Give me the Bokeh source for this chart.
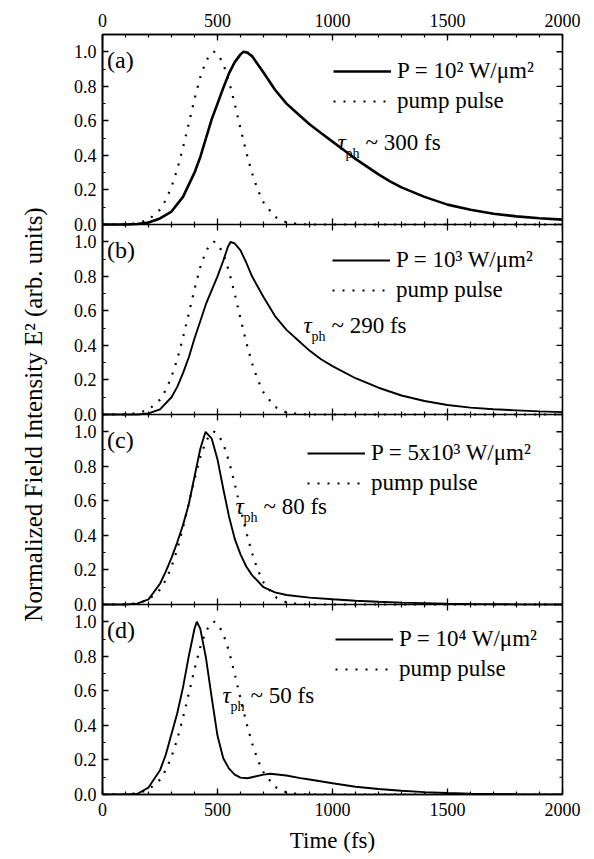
from bokeh.plotting import figure
from bokeh.models import (Range1d, LinearAxis, SingleIntervalTicker, FixedTicker,
                          CustomJSTickFormatter, Legend, LegendItem, Label, Span)
from bokeh.core.properties import value
from bokeh.embed import file_html
from bokeh.resources import INLINE

FONT = "Liberation Serif"

# ---------------- data ----------------
time_major_ticks = [0, 500, 1000, 1500, 2000]
time_minor_ticks = [100, 200, 300, 400, 600, 700, 800, 900, 1100, 1200, 1300, 1400,
                    1600, 1700, 1800, 1900]
field_ticks = [0.0, 0.2, 0.4, 0.6, 0.8, 1.0]
field_minor_ticks = [0.1, 0.3, 0.5, 0.7, 0.9]
panel_span = 1.1  # each panel shows 0 .. 1.1

pump_time = [0, 100, 150, 200, 250, 275, 300, 325, 350, 375, 400, 425, 450, 475, 485,
             500, 525, 550, 575, 600, 625, 650, 675, 700, 750, 800, 850, 900, 2000]
pump_field = [0.0, 0.001, 0.007, 0.027, 0.086, 0.141, 0.218, 0.32, 0.445, 0.584, 0.725,
              0.852, 0.947, 0.996, 1.0, 0.99, 0.931, 0.829, 0.698, 0.556, 0.419, 0.298,
              0.201, 0.128, 0.044, 0.012, 0.003, 0.0, 0.0]

time_a = [0, 100, 150, 200, 250, 300, 350, 400, 425, 450, 475, 500, 525, 550, 575, 600,
          613, 630, 650, 700, 750, 800, 850, 900, 950, 1000, 1050, 1100, 1150, 1200, 1250,
          1300, 1400, 1500, 1600, 1700, 1800, 1900, 2000]
field_a = [0.0, 0.0, 0.003, 0.012, 0.035, 0.075, 0.16, 0.30, 0.39, 0.50, 0.61, 0.70,
           0.79, 0.875, 0.94, 0.985, 1.0, 0.995, 0.975, 0.88, 0.78, 0.70, 0.64, 0.58, 0.53,
           0.48, 0.43, 0.38, 0.335, 0.29, 0.25, 0.215, 0.16, 0.115, 0.085, 0.062,
           0.047, 0.036, 0.028]

time_b = [0, 150, 200, 250, 300, 325, 350, 375, 400, 425, 450, 475, 500, 525, 545, 557,
          575, 600, 625, 650, 700, 750, 800, 850, 900, 950, 1000, 1100, 1200, 1300,
          1400, 1500, 1600, 1700, 1800, 1900, 2000]
field_b = [0.0, 0.0, 0.006, 0.03, 0.10, 0.16, 0.24, 0.33, 0.44, 0.54, 0.64, 0.72, 0.80,
           0.89, 0.97, 1.0, 0.99, 0.95, 0.88, 0.80, 0.68, 0.57, 0.49, 0.43, 0.37, 0.32,
           0.28, 0.21, 0.155, 0.11, 0.078, 0.055, 0.04, 0.03, 0.024, 0.018, 0.014]

time_c = [0, 100, 150, 200, 250, 275, 300, 325, 350, 375, 400, 425, 448, 475, 500, 525,
          550, 575, 600, 625, 650, 700, 750, 800, 900, 1000, 1100, 1200, 1300, 1400,
          1500, 1600, 1800, 2000]
field_c = [0.0, 0.0, 0.005, 0.03, 0.12, 0.19, 0.27, 0.36, 0.46, 0.58, 0.74, 0.90, 1.0,
           0.96, 0.84, 0.67, 0.51, 0.38, 0.29, 0.22, 0.17, 0.10, 0.07, 0.055, 0.04,
           0.03, 0.022, 0.016, 0.011, 0.008, 0.005, 0.003, 0.001, 0.0]

time_d = [0, 100, 150, 200, 250, 275, 300, 325, 350, 375, 400, 410, 425, 450, 475, 500,
          525, 550, 575, 600, 630, 650, 700, 730, 800, 860, 900, 1000, 1100, 1200, 1300,
          1400, 1500, 1600, 1800, 2000]
field_d = [0.0, 0.0, 0.003, 0.04, 0.14, 0.23, 0.35, 0.47, 0.62, 0.80, 0.96, 1.0, 0.96,
           0.79, 0.56, 0.34, 0.21, 0.15, 0.115, 0.098, 0.094, 0.10, 0.115, 0.12, 0.11,
           0.095, 0.087, 0.065, 0.045, 0.032, 0.022, 0.014, 0.009, 0.005, 0.002, 0.0]

panel_names = ["(a)", "(b)", "(c)", "(d)"]
legend_labels = ["P = 10² W/μm²", "P = 10³ W/μm²", "P = 5x10³ W/μm²", "P = 10⁴ W/μm²"]
tau_texts = ["~ 300 fs", "~ 290 fs", "~ 80 fs", "~ 50 fs"]
times = [time_a, time_b, time_c, time_d]
fields = [field_a, field_b, field_c, field_d]

# ---------------- layout / style (not data) ----------------
FRAME_W, FRAME_H = 460, 760
n = len(panel_names)
total = n * panel_span
px_per_unit_y = FRAME_H / total
px_per_unit_x = FRAME_W / 2000.0

legend_pos = [(231, 680), (230, 491), (205, 298), (233, 112)]
tau_pos = [(1022, 0.477), (874, 0.515), (578, 0.567), (522, 0.573)]
solid_width = [2.6, 1.9, 1.9, 1.9]

p = figure(frame_width=FRAME_W, frame_height=FRAME_H,
           x_range=Range1d(0, 2000), y_range=Range1d(0, total),
           output_backend="svg", toolbar_location=None,
           min_border_left=102, min_border_top=34, min_border_right=32, min_border_bottom=10)
p.background_fill_color = "white"
p.border_fill_color = "white"
p.outline_line_color = "black"
p.outline_line_width = 1.6
p.xgrid.visible = False
p.ygrid.visible = False

extra = {}
for i in range(n):
    k = n - 1 - i  # stacking index counted from the bottom
    extra["p%d" % i] = Range1d(-k * panel_span, (n - k) * panel_span)
p.extra_y_ranges = extra

# y ticks repeated in every panel
y_major = []
y_minor = []
for k in range(n):
    y_major += [round(k * panel_span + v, 6) for v in field_ticks]
    y_minor += [round(k * panel_span + v, 6) for v in field_minor_ticks]
yticker = FixedTicker(ticks=y_major, minor_ticks=y_minor)
yfmt = CustomJSTickFormatter(args=dict(span=panel_span), code="""
    const k = Math.floor((tick + 1e-6) / span);
    const v = tick - k * span;
    return Math.abs(v).toFixed(1);
""")
xticker = SingleIntervalTicker(interval=500, num_minor_ticks=5)


def style_axis(ax, standoff=6):
    ax.axis_line_width = 1.6
    ax.axis_line_color = "black"
    ax.major_tick_in = 6
    ax.major_tick_out = 0
    ax.minor_tick_in = 3
    ax.minor_tick_out = 0
    ax.major_tick_line_color = "black"
    ax.minor_tick_line_color = "black"
    ax.major_tick_line_width = 1.3
    ax.minor_tick_line_width = 1.2
    ax.major_label_text_font = FONT
    ax.major_label_text_color = "black"
    ax.major_label_text_font_size = "18px"
    ax.major_label_standoff = standoff
    ax.axis_label_text_color = "black"


# left axis
left = p.yaxis[0]
left.ticker = yticker
left.formatter = yfmt
style_axis(left)
left.axis_label = "Normalized Field Intensity E² (arb. units)"
left.axis_label_text_font = FONT
left.axis_label_text_font_style = "normal"
left.axis_label_text_font_size = "25px"
left.axis_label_standoff = 24

# bottom axis
bottom = p.xaxis[0]
bottom.ticker = xticker
style_axis(bottom, standoff=8)
bottom.axis_label = "Time (fs)"
bottom.axis_label_text_font = FONT
bottom.axis_label_text_font_style = "normal"
bottom.axis_label_text_font_size = "23px"
bottom.axis_label_standoff = 9

# top axis
top = LinearAxis(ticker=xticker)
style_axis(top, standoff=8)
p.add_layout(top, "above")

# right-hand inward ticks of every panel
p.segment(x0=[2000] * len(y_major), x1=[2000 - 6 / px_per_unit_x] * len(y_major),
          y0=y_major, y1=y_major, line_color="black", line_width=1.3)
p.segment(x0=[2000] * len(y_minor), x1=[2000 - 3 / px_per_unit_x] * len(y_minor),
          y0=y_minor, y1=y_minor, line_color="black", line_width=1.2)

# panel separators with ticks on both sides
maj_len = 6 / px_per_unit_y
min_len = 3 / px_per_unit_y
for k in range(1, n):
    yb = k * panel_span
    p.add_layout(Span(location=yb, dimension="width", line_color="black", line_width=1.6))
    p.segment(x0=time_major_ticks, x1=time_major_ticks,
              y0=[yb - maj_len] * len(time_major_ticks), y1=[yb + maj_len] * len(time_major_ticks),
              line_color="black", line_width=1.3)
    p.segment(x0=time_minor_ticks, x1=time_minor_ticks,
              y0=[yb - min_len] * len(time_minor_ticks), y1=[yb + min_len] * len(time_minor_ticks),
              line_color="black", line_width=1.2)

for i in range(n):
    rn = "p%d" % i
    r_solid = p.line(times[i], fields[i], y_range_name=rn, line_color="black",
                     line_width=solid_width[i])
    r_pump = p.line(pump_time, pump_field, y_range_name=rn, line_color="black",
                    line_width=2.2, line_dash="2 8")
    leg = Legend(items=[LegendItem(label=value(legend_labels[i]), renderers=[r_solid]),
                        LegendItem(label=value("pump pulse"), renderers=[r_pump])],
                 location=legend_pos[i], orientation="vertical",
                 background_fill_alpha=0, border_line_alpha=0,
                 label_text_font=FONT, label_text_font_size="23px", label_text_color="black",
                 glyph_width=58, glyph_height=20, label_standoff=6, label_height=24,
                 spacing=4, padding=0, margin=0)
    p.add_layout(leg)

    p.add_layout(Label(x=20, y=0.953, y_range_name=rn, text=panel_names[i],
                       text_font=FONT, text_font_size="24px", text_baseline="middle",
                       text_color="black"))
    tx, ty = tau_pos[i]
    p.add_layout(Label(x=tx, y=ty, y_range_name=rn, text="τ", text_font=FONT,
                       text_font_style="italic", text_font_size="23px",
                       text_baseline="middle", text_color="black"))
    p.add_layout(Label(x=tx, y=ty, y_range_name=rn, x_offset=8, y_offset=-11, text="ph",
                       text_font=FONT, text_font_size="14px", text_baseline="middle",
                       text_color="black"))
    p.add_layout(Label(x=tx, y=ty, y_range_name=rn, x_offset=28, text=tau_texts[i],
                       text_font=FONT, text_font_size="23px", text_baseline="middle",
                       text_color="black"))

open("out.html", "w").write(file_html(p, INLINE))
